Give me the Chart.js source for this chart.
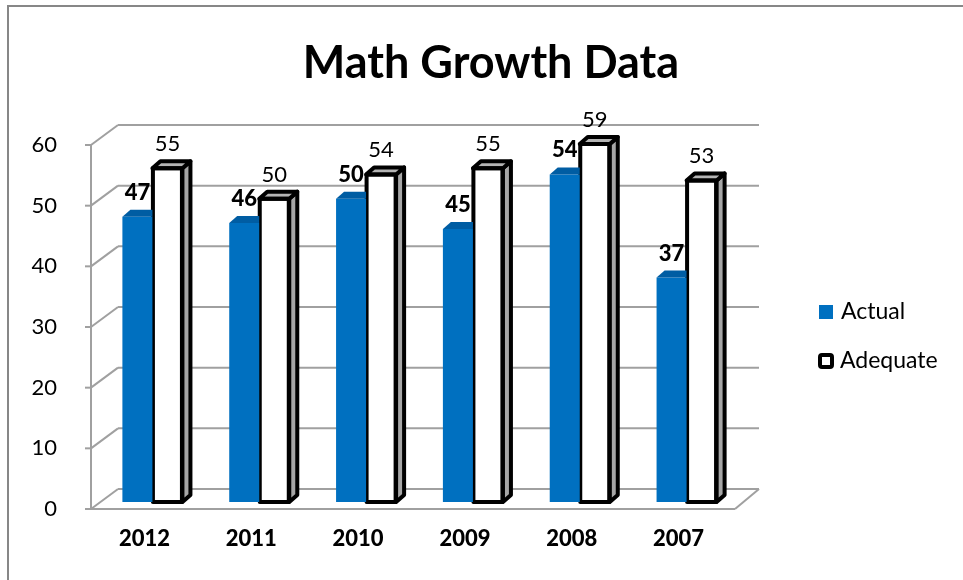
<!DOCTYPE html>
<html>
<head>
<meta charset="utf-8">
<script src="https://cdn.jsdelivr.net/npm/chart.js@4"></script>
<style>
  html, body { margin: 0; padding: 0; background: #fff; }
  #wrap { width: 963px; height: 580px; position: relative; }
</style>
</head>
<body>
<div id="wrap"><canvas id="c"></canvas></div>
<script>
const titleText = 'Math Growth Data';
const categories = ['2012', '2011', '2010', '2009', '2008', '2007'];
const actualValues = [47, 46, 50, 45, 54, 37];
const adequateValues = [55, 50, 54, 55, 59, 53];
const seriesNames = ['Actual', 'Adequate'];
const yMin = 0, yMax = 60, yStep = 10;

const FONT = 'Lato, "Open Sans", "Liberation Sans", sans-serif';
const WALL = { x: 27, y: -20 };     // depth of back wall
const SHIFT = { x: 8, y: -7 };      // bars sit mid-depth
const BARD = { x: 8, y: -7 };       // depth of each bar
const GRID = '#A0A0A0';

function line(ctx, x1, y1, x2, y2) {
  ctx.beginPath(); ctx.moveTo(x1, y1); ctx.lineTo(x2, y2); ctx.stroke();
}
function poly(ctx, pts, fill, stroke, lw) {
  ctx.beginPath();
  ctx.moveTo(pts[0][0], pts[0][1]);
  for (let i = 1; i < pts.length; i++) ctx.lineTo(pts[i][0], pts[i][1]);
  ctx.closePath();
  if (fill) { ctx.fillStyle = fill; ctx.fill(); }
  if (stroke) { ctx.strokeStyle = stroke; ctx.lineWidth = lw; ctx.lineJoin = 'round'; ctx.stroke(); }
}

const threeD = {
  id: 'threeD',
  beforeDraw(chart) {
    const ctx = chart.ctx;
    ctx.save();
    ctx.fillStyle = '#fff';
    ctx.fillRect(0, 0, chart.width, chart.height);
    ctx.strokeStyle = '#878787';
    ctx.lineWidth = 2;
    line(ctx, 8, 6, chart.width, 6);
    line(ctx, 8, 5, 8, chart.height);
    ctx.fillStyle = '#000';
    ctx.font = 'bold 45px ' + FONT;
    ctx.textAlign = 'center';
    ctx.textBaseline = 'alphabetic';
    ctx.fillText(titleText, 491, 78);
    ctx.restore();
  },
  beforeDatasetsDraw(chart) {
    const { ctx, chartArea: { left, right, bottom }, scales: { y } } = chart;
    ctx.save();
    ctx.strokeStyle = GRID;
    ctx.lineWidth = 2;
    y.ticks.forEach(t => {
      const py = y.getPixelForValue(t.value);
      line(ctx, left + WALL.x, py + WALL.y, right + WALL.x, py + WALL.y);
      line(ctx, left, py, left + WALL.x, py + WALL.y);
      line(ctx, left - 6, py, left, py);
    });
    line(ctx, left, y.getPixelForValue(yMin), left, y.getPixelForValue(yMax));
    line(ctx, left, bottom, right + 3, bottom);
    line(ctx, right + 3, bottom, right + WALL.x, bottom + WALL.y);
    ctx.restore();
  },
  beforeDatasetDraw(chart) {
    chart.ctx.save();
    chart.ctx.translate(SHIFT.x, SHIFT.y);
  },
  afterDatasetDraw(chart, args) {
    const ctx = chart.ctx;
    const idx = args.index;
    args.meta.data.forEach(el => {
      const p = el.getProps(['x', 'y', 'base', 'width'], true);
      const L = p.x - p.width / 2, R = p.x + p.width / 2, T = p.y, B = p.base;
      if (idx === 0) {
        poly(ctx, [[L, T], [L + BARD.x, T + BARD.y], [R, T + BARD.y], [R, T]], '#005DA3');
      } else {
        poly(ctx, [[R, T], [R + BARD.x, T + BARD.y], [R + BARD.x, B + BARD.y], [R, B]], '#A6A6A6', '#000', 4);
        poly(ctx, [[L, T], [L + BARD.x, T + BARD.y], [R + BARD.x, T + BARD.y], [R, T]], '#B4B4B4', '#000', 4);
        ctx.strokeStyle = '#000'; ctx.lineWidth = 4; ctx.lineJoin = 'round';
        ctx.strokeRect(L + 0.5, T, R - L - 1, B - T);
      }
    });
    ctx.restore();
  },
  afterDatasetsDraw(chart) {
    const ctx = chart.ctx;
    ctx.save();
    ctx.translate(SHIFT.x, SHIFT.y);
    ctx.textAlign = 'center';
    ctx.textBaseline = 'alphabetic';
    ctx.fillStyle = '#000';
    chart.data.datasets.forEach((ds, i) => {
      const meta = chart.getDatasetMeta(i);
      ctx.font = (i === 0 ? '900 22px ' : '22px ') + FONT;
      meta.data.forEach((el, j) => {
        const p = el.getProps(['x', 'y'], true);
        ctx.fillText(String(ds.data[j]), p.x, p.y - 17);
      });
    });
    ctx.restore();
  },
  afterDraw(chart) {
    const ctx = chart.ctx;
    ctx.save();
    ctx.font = '23px ' + FONT;
    ctx.textAlign = 'left';
    ctx.textBaseline = 'middle';
    ctx.fillStyle = chart.data.datasets[0].backgroundColor;
    ctx.fillRect(819, 305, 14, 14);
    ctx.fillStyle = '#000';
    ctx.fillText(chart.data.datasets[0].label, 841, 312);
    ctx.beginPath();
    ctx.roundRect(820, 355, 12, 12, 2);
    ctx.fillStyle = '#fff'; ctx.fill();
    ctx.strokeStyle = '#000'; ctx.lineWidth = 4; ctx.stroke();
    ctx.fillStyle = '#000';
    ctx.fillText(chart.data.datasets[1].label, 840, 361);
    ctx.restore();
  }
};

new Chart(document.getElementById('c'), {
  type: 'bar',
  data: {
    labels: categories,
    datasets: [
      { label: seriesNames[0], data: actualValues, backgroundColor: '#0070C0', borderWidth: 0, clip: false },
      { label: seriesNames[1], data: adequateValues, backgroundColor: '#FFFFFF', borderColor: '#000000', borderWidth: 0, clip: false }
    ]
  },
  options: {
    responsive: true,
    maintainAspectRatio: false,
    animation: false,
    devicePixelRatio: 1,
    layout: { padding: { left: 0, top: 145, right: 231, bottom: 0 } },
    datasets: { bar: { categoryPercentage: 0.562, barPercentage: 1.0 } },
    plugins: { legend: { display: false }, title: { display: false }, tooltip: { enabled: false } },
    scales: {
      x: {
        grid: { display: false },
        border: { display: false },
        ticks: { color: '#000', font: { family: FONT, size: 22, weight: '900' }, padding: 9 },
        afterFit(s) { s.height = 71; }
      },
      y: {
        min: yMin, max: yMax,
        grid: { display: false },
        border: { display: false },
        ticks: { stepSize: yStep, color: '#000', font: { family: FONT, size: 22 }, padding: 26 },
        afterFit(s) { s.width = 91; }
      }
    }
  },
  plugins: [threeD]
});
</script>
</body>
</html>
